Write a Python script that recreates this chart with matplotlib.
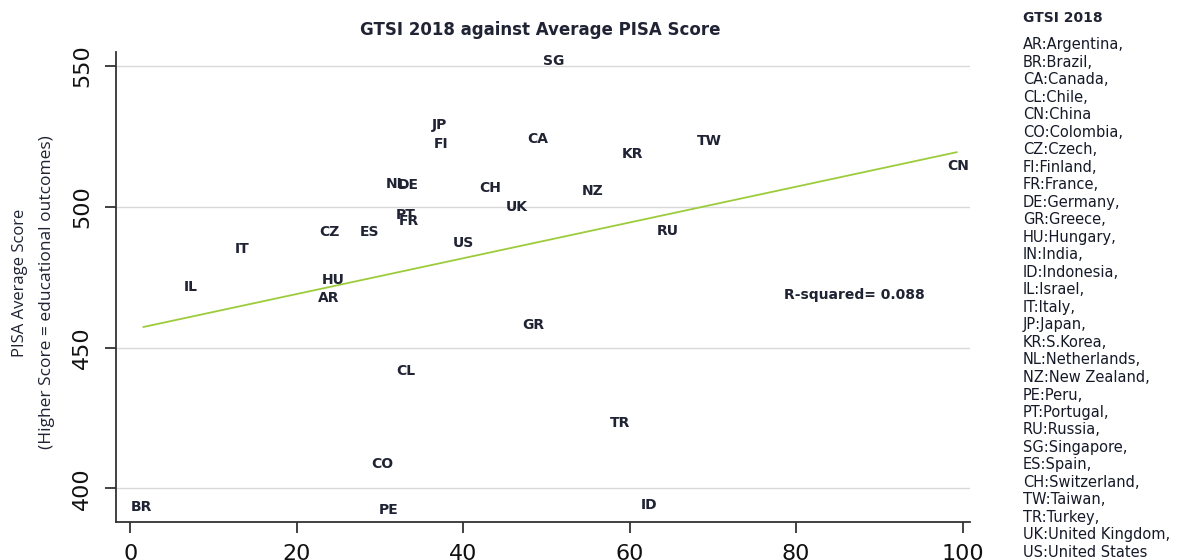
import matplotlib
matplotlib.use("Agg")
import matplotlib.pyplot as plt

codes = ["SG", "JP", "FI", "CA", "KR", "TW", "CN", "NL", "DE", "CH", "NZ", "UK",
         "PT", "FR", "CZ", "ES", "US", "RU", "IT", "HU", "AR", "IL", "GR", "CL",
         "TR", "CO", "BR", "PE", "ID"]
gtsi = [50.9, 37.2, 37.3, 49.0, 60.3, 69.6, 99.5, 31.9, 33.4, 43.2, 55.6, 46.5,
        33.1, 33.5, 24.0, 28.8, 40.0, 64.6, 13.4, 24.4, 23.9, 7.3, 48.4, 33.1,
        58.8, 30.3, 1.3, 31.1, 62.4]
pisa = [551.8, 529.0, 522.3, 524.0, 518.7, 523.4, 514.5, 508.0, 507.7, 506.6, 505.6, 500.0,
        497.0, 495.0, 491.0, 491.0, 487.0, 491.4, 485.0, 474.0, 467.6, 471.5, 458.0, 441.6,
        423.0, 408.5, 393.3, 392.2, 394.0]

fit_x = [1.6, 99.3]
fit_y = [457.3, 519.4]
r_squared = "0.088"

xticks = [0, 20, 40, 60, 80, 100]
yticks = [400, 450, 500, 550]

legend_title = "GTSI 2018"
legend_lines = ["AR:Argentina,", "BR:Brazil,", "CA:Canada,", "CL:Chile,", "CN:China",
                "CO:Colombia,", "CZ:Czech,", "FI:Finland,", "FR:France,", "DE:Germany,",
                "GR:Greece,", "HU:Hungary,", "IN:India,", "ID:Indonesia,", "IL:Israel,",
                "IT:Italy,", "JP:Japan,", "KR:S.Korea,", "NL:Netherlands,", "NZ:New Zealand,",
                "PE:Peru,", "PT:Portugal,", "RU:Russia,", "SG:Singapore,", "ES:Spain,",
                "CH:Switzerland,", "TW:Taiwan,", "TR:Turkey,", "UK:United Kingdom,",
                "US:United States"]

plt.rcParams['font.family'] = ['DejaVu Sans']
W, H = 1183, 560
fig = plt.figure(figsize=(W / 100, H / 100), dpi=100)
ax = fig.add_axes([116 / W, 1 - 522 / H, (970 - 116) / W, (522 - 52) / H])
ax.set_xlim(-1.7, 100.9)
ax.set_ylim(388, 555)

txtcol = "#1f2333"
for c, x, y in zip(codes, gtsi, pisa):
    ax.text(x, y, c, ha="center", va="center", fontsize=10, fontweight="bold", color=txtcol)

ax.plot(fit_x, fit_y, color="#9ccc3c", lw=1.3)
ax.text(78.6, 468.6, "R-squared= " + r_squared, ha="left", va="center", fontsize=10,
        fontweight="bold", color=txtcol)

ax.set_xticks(xticks)
ax.set_yticks(yticks)
ax.grid(axis="y", color="#d9d9d9", lw=1)
ax.set_axisbelow(True)
for s in ["top", "right"]:
    ax.spines[s].set_visible(False)
for s in ["left", "bottom"]:
    ax.spines[s].set_color("#333333")
    ax.spines[s].set_linewidth(1.3)
ax.tick_params(axis="both", length=8, width=1.3, color="#333333", labelcolor="#111111")
ax.tick_params(axis="x", labelsize=16, pad=8)
ax.tick_params(axis="y", labelsize=16, pad=9)
plt.setp(ax.get_yticklabels(), rotation=90, va="center")

fig.text(540 / W, 1 - 30 / H, "GTSI 2018 against Average PISA Score", ha="center", va="center",
         fontsize=12, fontweight="bold", color=txtcol)
fig.text(20 / W, 1 - 283 / H, "PISA Average Score", rotation=90, ha="center", va="center",
         fontsize=12, family=["Open Sans", "DejaVu Sans"], color=txtcol)
fig.text(47 / W, 1 - 292 / H, "(Higher Score = educational outcomes)", rotation=90, ha="center",
         va="center", fontsize=12.5, family=["Open Sans", "DejaVu Sans"], color=txtcol)

fig.text(1023 / W, 1 - 18 / H, legend_title, ha="left", va="center", fontsize=10,
         fontweight="bold", color=txtcol)
for i, line in enumerate(legend_lines):
    fig.text(1023 / W, 1 - (45 + i * 17.5) / H, line, ha="left", va="center", fontsize=10.5,
             color="#161a28")

fig.savefig("out.png", dpi=100, facecolor="white")
